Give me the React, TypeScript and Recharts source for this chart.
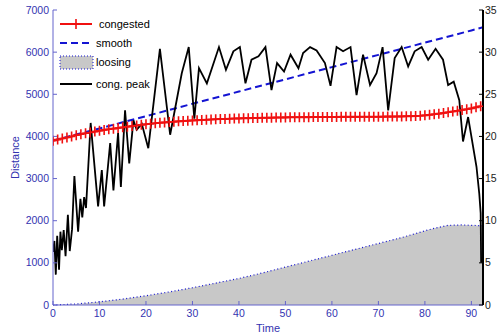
import { ComposedChart, Line, Area, XAxis, YAxis, Legend } from 'recharts';

// congested: one sample per time unit
const congestedTime = [
  0, 1, 2, 3, 4, 5, 6, 7, 8, 9, 10, 11, 12, 13, 14, 15, 16, 17, 18, 19,
  20, 21, 22, 23, 24, 25, 26, 27, 28, 29, 30, 31, 32, 33, 34, 35, 36, 37, 38, 39,
  40, 41, 42, 43, 44, 45, 46, 47, 48, 49, 50, 51, 52, 53, 54, 55, 56, 57, 58, 59,
  60, 61, 62, 63, 64, 65, 66, 67, 68, 69, 70, 71, 72, 73, 74, 75, 76, 77, 78, 79,
  80, 81, 82, 83, 84, 85, 86, 87, 88, 89, 90, 91, 92,
];
const congestedValues = [
  3900, 3925, 3950, 3975, 4000, 4030, 4050, 4075, 4095, 4115,
  4135, 4155, 4170, 4185, 4200, 4215, 4230, 4245, 4260, 4275,
  4290, 4302, 4313, 4323, 4333, 4342, 4350, 4358, 4366, 4373,
  4380, 4386, 4392, 4397, 4402, 4407, 4412, 4416, 4420, 4424,
  4428, 4431, 4434, 4437, 4440, 4442, 4444, 4446, 4448, 4450,
  4452, 4454, 4455, 4456, 4457, 4458, 4459, 4460, 4461, 4462,
  4463, 4463, 4464, 4464, 4465, 4465, 4466, 4466, 4467, 4467,
  4468, 4469, 4470, 4471, 4473, 4475, 4478, 4481, 4485, 4491,
  4500, 4512, 4525, 4540, 4556, 4572, 4590, 4608, 4627, 4646,
  4665, 4690, 4715,
];

const smoothTime = [0, 10, 20, 30, 40, 50, 60, 70, 80, 90, 92.5];
const smoothValues = [3900, 4190, 4480, 4775, 5065, 5355, 5645, 5935, 6225, 6515, 6590];

const loosingTime = [0, 5, 10, 15, 20, 25, 30, 35, 40, 45, 50, 55, 60, 65, 70, 75, 80, 82, 85, 88, 90, 92.5];
const loosingValues = [0, 25, 75, 140, 220, 310, 410, 520, 630, 760, 900, 1040, 1180, 1320, 1460, 1600, 1760, 1820, 1890, 1900, 1890, 1880];

// cong. peak, right axis
const peakTime = [
  0, 0.3, 0.6, 0.9, 1.3, 1.6, 1.9, 2.3, 2.7, 3.2, 3.6, 4.1, 4.6, 5.4, 5.9, 6.3, 6.7, 7.1, 8.1, 9.7,
  10.5, 11.0, 12.3, 13.0, 14.0, 14.6, 15.5, 16.4, 17.3, 18.0, 19.1, 20.5, 23.0, 25.2, 27.7, 29.2, 30.4, 31.4, 33.1, 35.7,
  37.2, 38.8, 40.2, 41.4, 42.7, 44.2, 45.7, 47.0, 48.2, 49.7, 51.1, 52.8, 53.8, 55.3, 56.7, 58.5, 59.7, 61.0, 62.4, 64.0,
  65.3, 66.7, 68.2, 69.6, 70.9, 72.1, 73.5, 75.0, 76.4, 77.8, 79.3, 80.7, 82.3, 83.9, 85.0, 86.2, 87.4, 88.2, 89.3, 91.1,
  91.7, 92.0, 92.1,
];
const peakValues = [
  6.3, 7.6, 3.6, 8.2, 4.2, 8.7, 6.5, 8.9, 5.8, 10.7, 6.4, 9.0, 15.3, 8.7, 12.6, 10.4, 12.8, 11.5, 21.6, 11.7,
  16.0, 11.7, 19.2, 13.6, 20.4, 14.0, 23.1, 16.8, 21.9, 20.8, 21.5, 18.6, 30.4, 20.2, 27.5, 30.6, 22.1, 28.1, 26.3, 30.6,
  27.9, 30.1, 30.6, 26.3, 29.1, 29.5, 30.6, 25.5, 28.7, 27.7, 29.7, 28.1, 29.9, 30.6, 30.2, 28.7, 26.0, 30.6, 30.1, 30.6,
  24.9, 29.7, 26.1, 27.5, 30.6, 23.1, 29.3, 30.6, 28.3, 30.1, 30.6, 29.1, 30.4, 29.1, 26.1, 26.5, 24.3, 19.4, 22.3, 16.4,
  13.2, 10.9, 5.0,
];

const timeTicks = [0, 10, 20, 30, 40, 50, 60, 70, 80, 90];
const distanceTicks = [0, 1000, 2000, 3000, 4000, 5000, 6000, 7000];
const peakTicks = [0, 5, 10, 15, 20, 25, 30, 35];
const seriesNames = ['congested', 'smooth', 'loosing', 'cong. peak'];

const rows = (t: number[], v: number[]) => t.map((x, i) => ({ t: x, v: v[i] }));

const FONT = '"Liberation Sans", Arial, sans-serif';
const TEXT_BLUE = '#3333b0';
const AXIS_BLUE = '#6464cc';
const NAVY = '#1c1c7c';
const RED = '#f01010';
const BLUE = '#1414d2';

const LeftTick = ({ x, y, payload }: any) => (
  <g>
    <line x1={x} x2={x + 4} y1={y} y2={y} stroke={AXIS_BLUE} />
    <text x={x - 4} y={y + 3.6} textAnchor="end" fontSize={10.5} fill={TEXT_BLUE} fontFamily={FONT}>{payload.value}</text>
  </g>
);
const RightTick = ({ x, y, payload }: any) => (
  <g>
    <line x1={x - 4} x2={x} y1={y} y2={y} stroke="#000" />
    <text x={x + 2} y={y + 3.6} textAnchor="start" fontSize={10.5} fill="#222" fontFamily={FONT}>{payload.value}</text>
  </g>
);
const BottomTick = ({ x, y, payload }: any) => (
  <g>
    <line x1={x} x2={x} y1={y - 4} y2={y} stroke={AXIS_BLUE} />
    <text x={x} y={y + 12} textAnchor="middle" fontSize={10.5} fill={TEXT_BLUE} fontFamily={FONT}>{payload.value}</text>
  </g>
);
const TopTick = ({ x, y }: any) => <line x1={x} x2={x} y1={y} y2={y + 4} stroke={NAVY} />;

const DistanceTitle = (props: any) => {
  const vb = props.viewBox ?? { x: 0, y: 10, width: 53, height: 295 };
  const cx = vb.x + 15;
  const cy = vb.y + vb.height / 2;
  return (
    <text x={cx} y={cy} transform={`rotate(-90 ${cx} ${cy})`} textAnchor="middle" dy={4} fontSize={11} fill={TEXT_BLUE} fontFamily={FONT}>
      Distance
    </text>
  );
};
const TimeTitle = (props: any) => {
  const vb = props.viewBox ?? { x: 53, y: 305, width: 430, height: 31 };
  return (
    <text x={vb.x + vb.width / 2} y={vb.y + 27} textAnchor="middle" fontSize={11} fill={TEXT_BLUE} fontFamily={FONT}>
      Time
    </text>
  );
};

const PlusDot = (p: any) => (
  <path key={`m${p.index}`} d={`M${p.cx - 3.5},${p.cy}h7M${p.cx},${p.cy - 5}v10`} stroke={RED} strokeWidth={1.6} fill="none" />
);

const LegendBox = () => (
  <svg width={160} height={100} style={{ display: 'block' }}>
    <line x1={60} x2={92} y1={24} y2={24} stroke={RED} strokeWidth={2} />
    <path d="M76,19v10M72.5,24h7" stroke={RED} strokeWidth={1.6} />
    <text x={99} y={28} fontSize={11} fontFamily={FONT} fill="#000">{seriesNames[0]}</text>
    <line x1={60} x2={92} y1={43} y2={43} stroke={BLUE} strokeWidth={2} strokeDasharray="7 4" />
    <text x={96} y={47} fontSize={11} fontFamily={FONT} fill="#000">{seriesNames[1]}</text>
    <rect x={60} y={56} width={33} height={13} fill="#c8c8c8" stroke={BLUE} strokeDasharray="1 2" />
    <text x={96} y={66} fontSize={11} fontFamily={FONT} fill="#000">{seriesNames[2]}</text>
    <line x1={60} x2={92} y1={84} y2={84} stroke="#000" strokeWidth={2} />
    <text x={96} y={88} fontSize={11} fontFamily={FONT} fill="#000">{seriesNames[3]}</text>
  </svg>
);

export default function App() {
  return (
    <div style={{ position: 'absolute', left: 0, top: 0, width: 502, height: 336, background: '#fff' }}>
      <ComposedChart width={502} height={336} margin={{ top: 10, right: 0, bottom: 0, left: 0 }}>
        <XAxis
          dataKey="t"
          type="number"
          domain={[0, 92.5]}
          allowDataOverflow
          ticks={timeTicks}
          interval={0}
          height={31}
          tickSize={0}
          tickMargin={0}
          tick={<BottomTick />}
          axisLine={{ stroke: AXIS_BLUE }}
          label={<TimeTitle />}
        />
        <XAxis
          xAxisId="top"
          orientation="top"
          dataKey="t"
          type="number"
          domain={[0, 92.5]}
          allowDataOverflow
          ticks={timeTicks}
          interval={0}
          height={0}
          tickSize={0}
          tickMargin={0}
          tick={<TopTick />}
          axisLine={{ stroke: NAVY, strokeWidth: 1.5 }}
        />
        <YAxis
          yAxisId="left"
          domain={[0, 7000]}
          ticks={distanceTicks}
          interval={0}
          width={53}
          tickSize={0}
          tickMargin={0}
          tick={<LeftTick />}
          axisLine={{ stroke: AXIS_BLUE }}
          label={<DistanceTitle />}
        />
        <YAxis
          yAxisId="right"
          orientation="right"
          domain={[0, 35]}
          ticks={peakTicks}
          interval={0}
          width={19}
          tickSize={0}
          tickMargin={0}
          tick={<RightTick />}
          axisLine={{ stroke: '#000', strokeWidth: 2 }}
        />
        <Legend
          layout="horizontal"
          align="center"
          verticalAlign="middle"
          wrapperStyle={{ left: 0, top: 0, width: 160, height: 100 }}
          content={<LegendBox />}
        />
        <Area
          yAxisId="left"
          data={rows(loosingTime, loosingValues)}
          dataKey="v"
          name={seriesNames[2]}
          type="linear"
          fill="#c8c8c8"
          fillOpacity={1}
          stroke={BLUE}
          strokeWidth={1.2}
          strokeDasharray="1 2.5"
          isAnimationActive={false}
        />
        <Line
          yAxisId="left"
          data={rows(congestedTime, congestedValues)}
          dataKey="v"
          name={seriesNames[0]}
          type="linear"
          stroke={RED}
          strokeWidth={2}
          dot={PlusDot}
          activeDot={false}
          isAnimationActive={false}
        />
        <Line
          yAxisId="left"
          data={rows(smoothTime, smoothValues)}
          dataKey="v"
          name={seriesNames[1]}
          type="linear"
          stroke={BLUE}
          strokeWidth={2}
          strokeDasharray="7 4"
          dot={false}
          activeDot={false}
          isAnimationActive={false}
        />
        <Line
          yAxisId="right"
          data={rows(peakTime, peakValues)}
          dataKey="v"
          name={seriesNames[3]}
          type="linear"
          stroke="#000"
          strokeWidth={1.8}
          dot={false}
          activeDot={false}
          isAnimationActive={false}
        />
      </ComposedChart>
    </div>
  );
}
